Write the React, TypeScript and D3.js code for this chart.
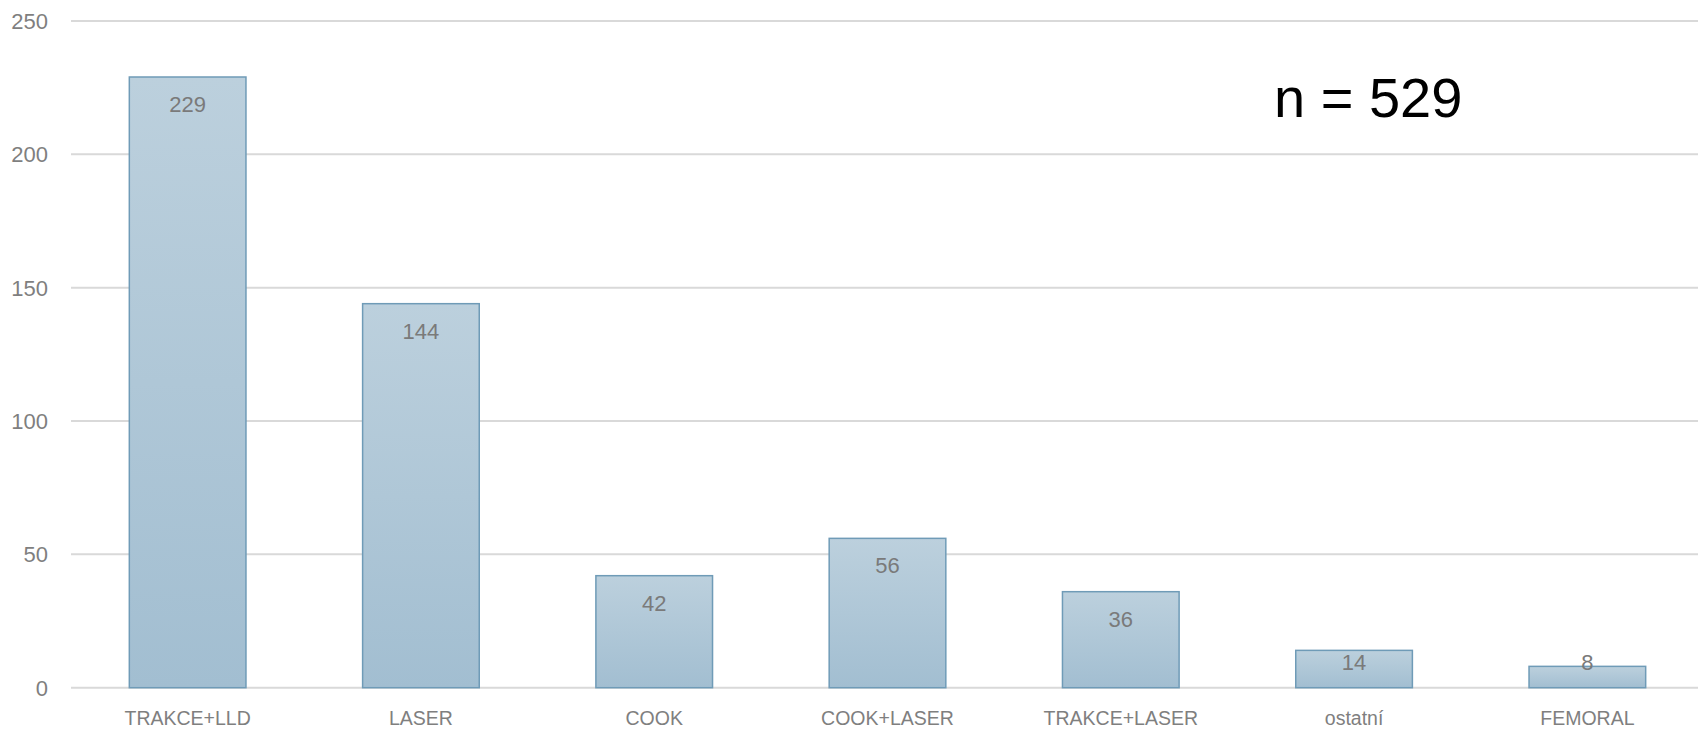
import React from "react";
import * as d3 from "d3";

const categories = ["TRAKCE+LLD", "LASER", "COOK", "COOK+LASER", "TRAKCE+LASER", "ostatní", "FEMORAL"];
const values = [229, 144, 42, 56, 36, 14, 8];
const yTicks = [0, 50, 100, 150, 200, 250];
const annotation = "n = 529";

const W = 1698;
const H = 729;
const FONT = "'Liberation Sans', Arial, sans-serif";

export default function App() {
  const x = d3.scaleBand<string>().domain(categories).range([71, 1704]).paddingInner(0.5).paddingOuter(0.25);
  const y = d3.scaleLinear().domain([0, 250]).range([687.7, 21]);
  const axisY = y(0);

  return (
    <svg
      width={W}
      height={H}
      style={{ position: "absolute", left: 0, top: 0, background: "#fff" }}
      xmlns="http://www.w3.org/2000/svg"
    >
      <defs>
        <linearGradient id="barGrad" x1="0" y1="0" x2="0" y2="1">
          <stop offset="0%" stopColor="#bcd0dd" />
          <stop offset="100%" stopColor="#a2bed1" />
        </linearGradient>
      </defs>
      {yTicks.map((t) => (
        <g key={t}>
          <line x1={71} x2={W} y1={y(t)} y2={y(t)} stroke="#d9d9d9" strokeWidth={2} />
          <text
            x={48}
            y={y(t)}
            dy="0.36em"
            textAnchor="end"
            fontFamily={FONT}
            fontSize={22}
            fill="#7f7f7f"
          >
            {t}
          </text>
        </g>
      ))}
      {categories.map((c, i) => {
        const v = values[i];
        const x0 = x(c)!;
        const top = y(v);
        const labelY = Math.min(top + 35, 670);
        return (
          <g key={c}>
            <rect
              x={x0}
              y={top}
              width={x.bandwidth()}
              height={axisY - top}
              fill="url(#barGrad)"
              stroke="#6f9bb7"
              strokeWidth={1.5}
            />
            <text
              x={x0 + x.bandwidth() / 2}
              y={labelY}
              textAnchor="middle"
              fontFamily={FONT}
              fontSize={22}
              fill="#7a7a7a"
            >
              {v}
            </text>
            <text
              x={x0 + x.bandwidth() / 2}
              y={725}
              textAnchor="middle"
              fontFamily={FONT}
              fontSize={19.5}
              fill="#7f7f7f"
            >
              {c}
            </text>
          </g>
        );
      })}
      <text x={1274} y={117} fontFamily={FONT} fontSize={56} fill="#000">
        {annotation}
      </text>
    </svg>
  );
}
